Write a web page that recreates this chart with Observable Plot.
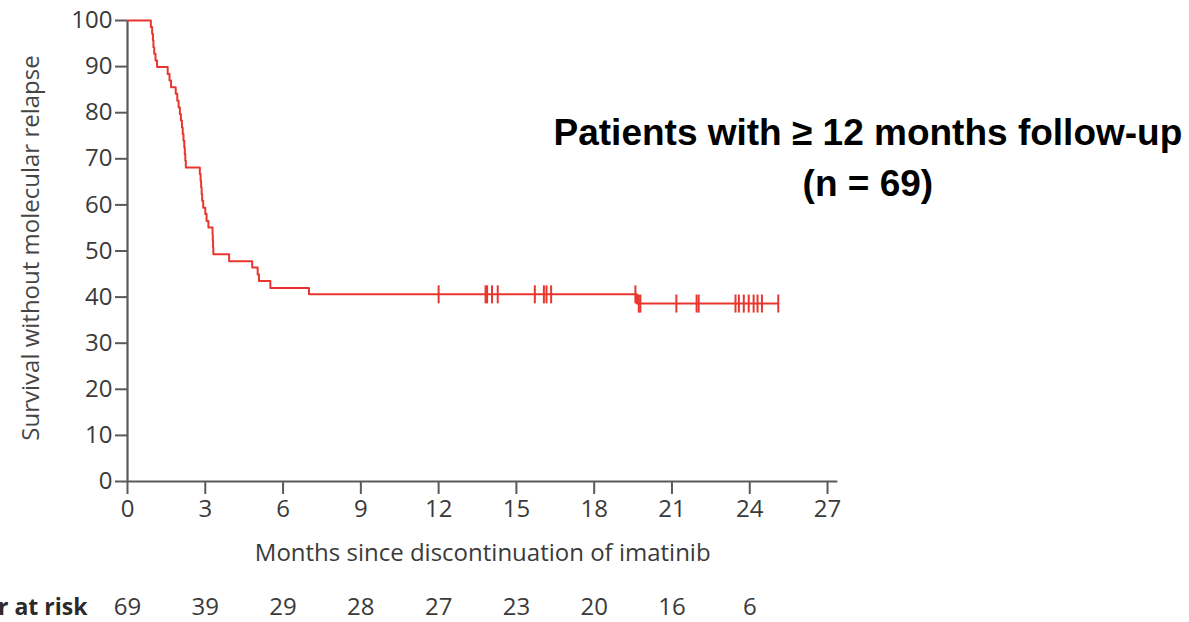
<!DOCTYPE html>
<html>
<head>
<meta charset="utf-8">
<script src="https://cdn.jsdelivr.net/npm/d3@7"></script>
<script src="https://cdn.jsdelivr.net/npm/@observablehq/plot@0.6"></script>
<style>
  html, body { margin: 0; padding: 0; background: #fff; }
  #chart { width: 1189px; height: 622px; overflow: hidden; }
</style>
</head>
<body>
<div id="chart"></div>
<script>
// Kaplan–Meier step curve (months, % survival without molecular relapse)
const stepTimes = [0, 0.9, 0.95, 0.98, 1.0, 1.03, 1.08, 1.14, 1.55, 1.62, 1.68, 1.86, 1.92, 1.97, 2.02, 2.06, 2.10, 2.13, 2.16, 2.19, 2.21, 2.23, 2.25, 2.79, 2.82, 2.84, 2.86, 2.88, 2.92, 3.0, 3.05, 3.12, 3.28, 3.29, 3.30, 3.31, 3.92, 4.81, 5.02, 5.07, 5.51, 7.0, 19.65, 25.1];
const stepSurvival = [100, 98.6, 97.1, 95.7, 94.2, 92.8, 91.3, 89.9, 88.4, 87.0, 85.5, 84.1, 82.6, 81.2, 79.7, 78.3, 76.8, 75.4, 73.9, 72.5, 71.0, 69.6, 68.1, 66.7, 65.2, 63.8, 62.3, 60.9, 59.4, 58.0, 56.5, 55.1, 53.6, 52.2, 50.7, 49.3, 47.8, 46.4, 44.9, 43.5, 42.0, 40.6, 38.6, 38.6];

// Censored observations
const censorTimes = [12.0, 13.81, 13.87, 14.06, 14.28, 15.71, 16.06, 16.16, 16.34, 19.59, 19.72, 19.78, 21.17, 21.95, 22.03, 23.45, 23.58, 23.77, 23.96, 24.15, 24.3, 24.47, 25.1];
const censorSurvival = [40.6, 40.6, 40.6, 40.6, 40.6, 40.6, 40.6, 40.6, 40.6, 40.6, 38.6, 38.6, 38.6, 38.6, 38.6, 38.6, 38.6, 38.6, 38.6, 38.6, 38.6, 38.6, 38.6];

// Axes and number at risk
const xTicks = [0, 3, 6, 9, 12, 15, 18, 21, 24, 27];
const yTicks = [0, 10, 20, 30, 40, 50, 60, 70, 80, 90, 100];
const riskMonths = [0, 3, 6, 9, 12, 15, 18, 21, 24];
const riskCounts = [69, 39, 29, 28, 27, 23, 20, 16, 6];

const titleLines = ["Patients with \u2265 12 months follow-up", "(n = 69)"];
const xLabel = "Months since discontinuation of imatinib";
const yLabel = "Survival without molecular relapse";
const riskLabel = "Number at risk";

const steps = stepTimes.map((t, i) => ({t, s: stepSurvival[i]}));
const censored = censorTimes.map((t, i) => ({t, s: censorSurvival[i]}));
const risk = riskMonths.map((m, i) => ({m, n: riskCounts[i]}));

const censorTick = {
  draw(context) {
    context.moveTo(0, -9);
    context.lineTo(0, 9);
  }
};

const red = "#e8362e";
const axisGray = "#5a5a5a";
const textGray = "#3a3a3a";
const font = "'Open Sans', sans-serif";
const fs = 24;

const chart = Plot.plot({
  width: 1189,
  height: 622,
  marginLeft: 127,
  marginRight: 351.6,
  marginTop: 20,
  marginBottom: 141,
  x: {domain: [0, 27.4]},
  y: {domain: [0, 100]},
  style: {fontFamily: font, fontSize: fs + "px", color: textGray, background: "#fff", overflow: "visible"},
  marks: [
    Plot.axisX({ticks: xTicks, tickSize: 13, tickPadding: 5, stroke: axisGray, strokeWidth: 2, label: null, fontSize: fs, fill: textGray}),
    Plot.axisY({ticks: yTicks, tickSize: 12, tickPadding: 3, stroke: axisGray, strokeWidth: 2, label: null, fontSize: fs, fill: textGray}),
    Plot.ruleY([0], {stroke: axisGray, strokeWidth: 2.2}),
    Plot.ruleX([0], {stroke: axisGray, strokeWidth: 2.2}),
    Plot.line(steps, {x: "t", y: "s", curve: "step-after", stroke: red, strokeWidth: 2}),
    Plot.dot(censored, {x: "t", y: "s", symbol: censorTick, stroke: red, strokeWidth: 2, fill: "none"}),
    Plot.text([xLabel], {frameAnchor: "bottom", dy: 72, lineAnchor: "middle", fontSize: fs, fill: textGray, fontFamily: font}),
    Plot.text([yLabel], {frameAnchor: "left", dx: -96, dy: -3, rotate: -90, textAnchor: "middle", lineAnchor: "middle", fontSize: fs, fill: "#454545", fontFamily: font}),
    Plot.text(risk, {x: "m", text: "n", frameAnchor: "bottom", dy: 126, lineAnchor: "middle", fontSize: fs, fill: textGray, fontFamily: font}),
    Plot.text([riskLabel], {x: () => 0, frameAnchor: "bottom", dy: 126, dx: -40, textAnchor: "end", lineAnchor: "middle", fontSize: fs - 1, fontWeight: "bold", fill: "#2a2a2a", fontFamily: font}),
    Plot.text([titleLines[0]], {frameAnchor: "top-right", dx: 30, dy: 113, textAnchor: "middle", lineAnchor: "middle", fontSize: 37, fontWeight: "bold", fill: "#000", fontFamily: "'Liberation Sans', Arial, sans-serif"}),
    Plot.text([titleLines[1]], {frameAnchor: "top-right", dx: 30, dy: 164, textAnchor: "middle", lineAnchor: "middle", fontSize: 37, fontWeight: "bold", fill: "#000", fontFamily: "'Liberation Sans', Arial, sans-serif"})
  ]
});
document.getElementById("chart").append(chart);
</script>
</body>
</html>
